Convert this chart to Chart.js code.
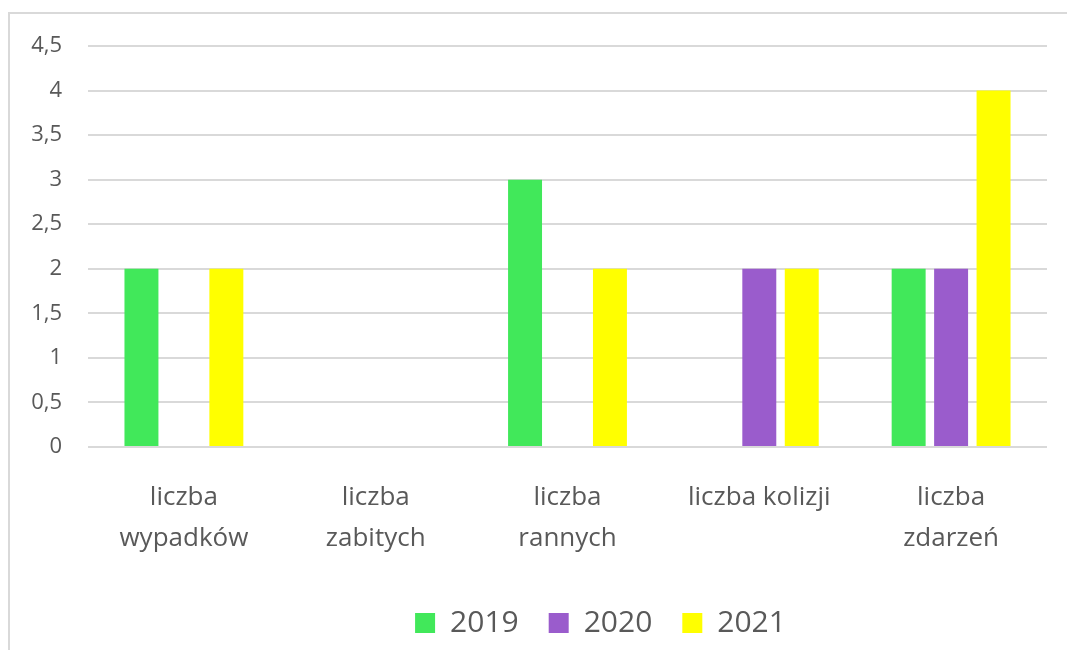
<!DOCTYPE html>
<html lang="pl">

<head>
    <meta charset="UTF-8">
    <title>Zdarzenia drogowe 2019-2021</title>
    <style>
        body {
            margin: 0;
            padding: 0;
            background-color: #fff;
            width: 1067px;
            height: 650px;
            overflow: hidden;
            position: relative;
        }

        #frame {
            position: absolute;
            left: 8px;
            top: 12px;
            width: 1067px;
            height: 650px;
            border-left: 2px solid #d9d9d9;
            border-top: 2px solid #d9d9d9;
        }

        #chart {
            position: absolute;
            left: 0;
            top: 0;
        }
    </style>
</head>

<body>
    <div id="frame"></div>
    <canvas id="chart" width="1067" height="650"></canvas>

    <script src="https://cdn.jsdelivr.net/npm/chart.js"></script>
    <script>
        // kategorie na osi X
        const categories = [
            ['liczba', 'wypadków'],
            ['liczba', 'zabitych'],
            ['liczba', 'rannych'],
            'liczba kolizji',
            ['liczba', 'zdarzeń']
        ];

        // wartości dla poszczególnych lat
        const years = ['2019', '2020', '2021'];
        const values2019 = [2, 0, 3, 0, 2];
        const values2020 = [0, 0, 0, 2, 2];
        const values2021 = [2, 0, 2, 2, 4];
        const colors = ['#41e85a', '#9a5ccc', '#ffff00'];

        const yMax = 4.5;
        const yStep = 0.5;

        const fontFamily = "'Open Sans', 'Noto Sans', sans-serif";
        const textColor = '#595959';

        // przesunięcie legendy w prawo względem środka płótna
        const legendShift = {
            id: 'legendShift',
            afterLayout(chart) {
                const lg = chart.legend;
                lg.left += 77;
                lg.right += 77;
            }
        };

        const ctx = document.getElementById('chart').getContext('2d');
        new Chart(ctx, {
            type: 'bar',
            data: {
                labels: categories,
                datasets: [values2019, values2020, values2021].map((vals, i) => ({
                    label: years[i],
                    data: vals,
                    backgroundColor: colors[i],
                    borderWidth: 0,
                    categoryPercentage: 0.664,
                    barPercentage: 0.8
                }))
            },
            options: {
                responsive: false,
                animation: false,
                layout: {
                    padding: { top: 46, right: 20, bottom: 2, left: 0 }
                },
                plugins: {
                    tooltip: { enabled: false },
                    legend: {
                        position: 'bottom',
                        labels: {
                            boxWidth: 20,
                            boxHeight: 20,
                            padding: 30,
                            color: textColor,
                            font: { family: fontFamily, size: 30 }
                        }
                    }
                },
                scales: {
                    x: {
                        grid: { display: false, drawTicks: false },
                        border: { display: false },
                        ticks: {
                            color: textColor,
                            padding: 30,
                            maxRotation: 0,
                            autoSkip: false,
                            font: { family: fontFamily, size: 26, lineHeight: 1.58 }
                        },
                        afterFit: scale => { scale.height = 131; }
                    },
                    y: {
                        min: 0,
                        max: yMax,
                        grid: { color: '#d9d9d9', lineWidth: 2, drawTicks: false },
                        border: { display: false },
                        ticks: {
                            stepSize: yStep,
                            color: textColor,
                            padding: 26,
                            font: { family: fontFamily, size: 22 },
                            callback: v => String(v).replace('.', ',')
                        },
                        afterFit: scale => { scale.width = 88; }
                    }
                }
            },
            plugins: [legendShift]
        });
    </script>
</body>

</html>
